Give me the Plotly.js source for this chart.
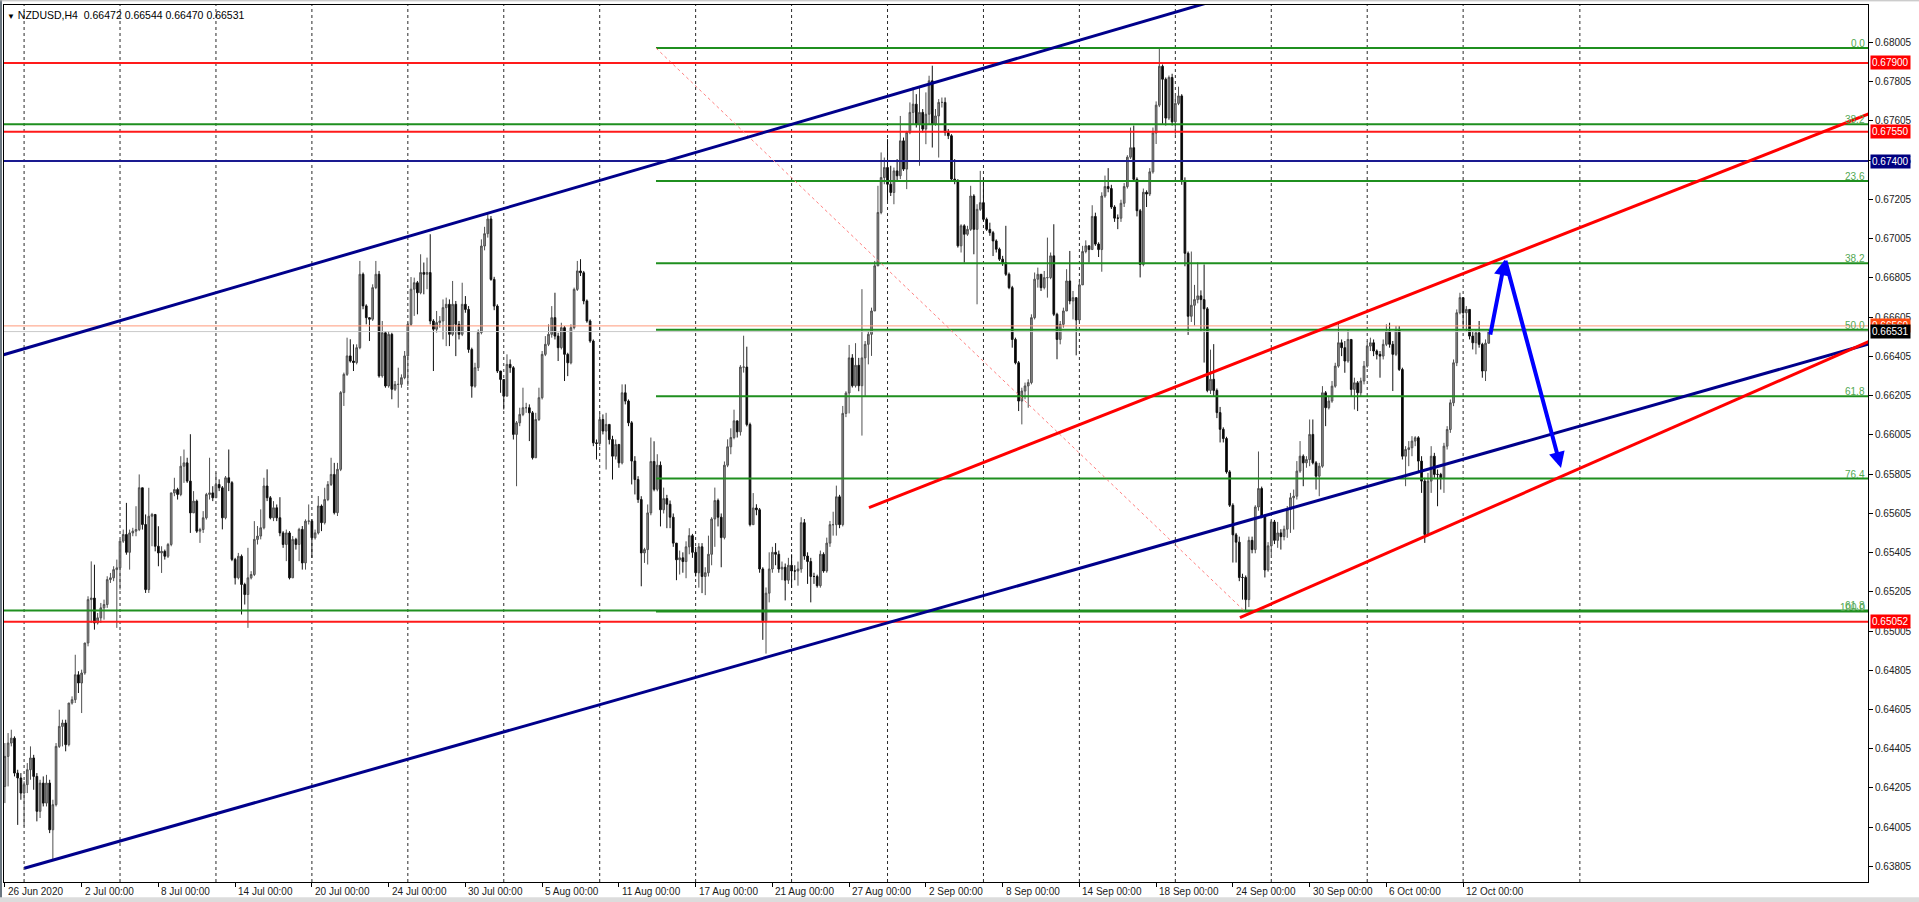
<!DOCTYPE html>
<html><head><meta charset="utf-8">
<script src="https://cdn.plot.ly/plotly-3.0.1.min.js"></script>
<style>html,body{margin:0;padding:0;background:#fff;overflow:hidden}#chart{width:1919px;height:902px}</style>
</head><body><div id="chart"></div>
<script>
// ---- Data: NZDUSD H4 candles, prices in points (1 point = 0.00001) ----
const firstOpen = 64213;
const closePts = [
64366,64434,64459,64281,64256,64179,64222,64298,64358,64264,
64086,64230,64128,64230,63992,64120,64417,64519,64536,64426,
64638,64655,64782,64740,64791,64944,65165,65173,65046,65072,
65123,65140,65267,65276,65318,65327,65463,65497,65406,65505,
65514,65522,65735,65548,65216,65590,65599,65437,65403,65411,
65386,65446,65709,65726,65701,65845,65862,65769,65607,65667,
65514,65522,65582,65701,65709,65684,65752,65735,65582,65786,
65761,65370,65276,65386,65242,65191,65276,65293,65472,65489,
65531,65744,65684,65582,65633,65582,65505,65446,65505,65276,
65472,65446,65523,65352,65565,65565,65480,65505,65642,65557,
65675,65752,65803,65608,65829,66220,66313,66407,66381,66373,
66449,66823,66662,66602,66594,66755,66823,66305,66525,66254,
66517,66237,66262,66262,66296,66407,66568,66747,66780,66729,
66832,66823,66832,66585,66543,66577,66585,66653,66670,66517,
66670,66568,66517,66670,66644,66440,66253,66347,66526,66967,
67030,67105,66797,66661,66330,66287,66202,66364,66347,66007,
66066,66109,66143,66143,66117,65888,66083,66194,66415,66466,
66517,66602,66508,66449,66551,66415,66372,66551,66746,66840,
66831,66687,66585,66483,65964,65961,66083,66024,66058,65981,
65896,65956,65862,66219,66177,66066,65871,65777,65675,65403,
65420,65607,65869,65727,65850,65623,65680,65651,65585,65453,
65368,65378,65359,65434,65491,65406,65302,65434,65283,65302,
65396,65576,65670,65585,65481,65850,65944,65991,66076,66020,
66350,66350,66057,65547,65632,65623,65321,65057,65198,65321,
65406,65396,65321,65330,65264,65340,65311,65311,65321,65557,
65387,65359,65283,65283,65236,65396,65311,65453,65547,65547,
65689,65547,66114,66218,66397,66255,66359,66255,66397,66466,
66517,66636,66866,67138,67316,67367,67282,67240,67350,67325,
67503,67359,67546,67648,67690,67588,67648,67563,67639,67809,
67588,67630,67699,67699,67546,67529,67308,67299,66968,67070,
67027,67052,67222,67052,67154,67188,67103,67052,67035,66993,
66951,66900,66883,66823,66755,66491,66372,66177,66228,66254,
66271,66602,66798,66823,66755,66806,66806,66917,66619,66491,
66568,66636,66789,66687,66704,66590,66769,66939,66968,66949,
67118,66977,66949,67222,67270,67260,67166,67109,67109,67185,
67270,67420,67468,67307,67147,66873,67241,67232,67345,67543,
67685,67883,67817,67619,67826,67600,67694,67732,67298,66930,
66609,66665,66694,66713,66694,66647,66231,66288,66231,66118,
66033,65986,65816,65646,65495,65458,65278,65278,65165,65467,
65420,65637,65731,65590,65316,65439,65561,65467,65505,65486,
65524,65625,65684,65692,65820,65896,65862,65879,66007,65862,
65794,65845,66219,66143,66177,66253,66355,66474,66449,66381,
66491,66236,66270,66219,66279,66355,66457,66474,66432,66415,
66406,66466,66534,66466,66415,66542,66338,65896,65930,65939,
65973,65990,65871,65769,65497,65769,65896,65803,65803,65786,
65947,66032,66168,66372,66627,66704,66627,66644,66508,66474,
66525,66466,66330,66472,66531];
const highPts = [
64434,64485,64502,64468,64298,64281,64239,64332,64417,64374,
64281,64247,64264,64272,64247,64145,64434,64604,64553,64553,
64638,64672,64884,64800,64808,64944,65182,65360,65343,65097,
65148,65165,65284,65301,65335,65369,65471,65522,65658,65522,
65531,65641,65803,65735,65599,65735,65607,65599,65539,65437,
65420,65454,65709,65786,65735,65896,65930,65888,66008,65718,
65675,65531,65616,65709,65888,65743,65812,65778,65744,65795,
65930,65769,65378,65403,65395,65251,65429,65310,65565,65540,
65625,65786,65829,65693,65667,65650,65687,65514,65522,65514,
65489,65480,65531,65540,65574,65650,65574,65522,65693,65650,
65735,65769,65888,65862,65862,66228,66322,66500,66492,66466,
66466,66891,66832,66670,66602,66772,66891,66840,66585,66534,
66534,66525,66279,66347,66313,66432,66577,66809,66806,66789,
66925,66883,66908,67027,66594,66636,66610,66695,66704,66695,
66789,66687,66585,66780,66712,66661,66449,66372,66542,67001,
67065,67139,67120,66810,66670,66330,66253,66415,66389,66355,
66075,66143,66245,66168,66160,66126,66117,66245,66432,66508,
66568,66661,66729,66525,66576,66559,66423,66568,66755,66891,
66900,66840,66695,66593,66491,65981,66117,66109,66117,66015,
66000,65981,65922,66262,66262,66185,66075,65896,65794,65692,
65429,65650,65991,65972,65906,65869,65736,65699,65670,65604,
65444,65415,65406,65462,65529,65500,65434,65453,65453,65330,
65491,65585,65736,65680,65604,65869,65982,66038,66133,66076,
66360,66510,66454,66067,65708,65651,65632,65330,65227,65406,
65434,65453,65415,65359,65349,65378,65396,65340,65359,65585,
65576,65406,65378,65302,65292,65415,65406,65481,65566,65613,
65746,65699,66152,66227,66463,66416,66472,66397,66747,66483,
66534,66653,66891,67274,67444,67418,67512,67376,67367,67410,
67630,67520,67554,67699,67775,67741,67775,67665,67750,67835,
67886,67665,67716,67724,67724,67563,67537,67410,67308,67078,
67078,67070,67274,67231,67180,67350,67316,67112,67086,67044,
67001,66959,66917,67070,66832,66764,66500,66381,66245,66271,
66288,66619,66832,66857,66823,66840,67010,66934,67078,66627,
66585,66653,66849,66942,66738,66694,66788,66968,66996,66968,
67175,67137,66986,67241,67326,67364,67279,67175,67128,67203,
67288,67430,67571,67581,67317,67156,67260,67251,67364,67571,
67704,67976,67892,67826,67836,67845,67732,67779,67741,67317,
66939,66939,66769,66883,66741,66873,66656,66439,66467,66241,
66147,66043,65995,65825,65656,65505,65486,65297,65288,65486,
65486,65646,65920,65741,65599,65458,65571,65571,65561,65524,
65542,65642,65709,65726,65871,65973,65905,65896,66083,66083,
65871,65862,66253,66228,66202,66279,66372,66576,66491,66483,
66542,66491,66296,66279,66296,66381,66483,66500,66491,66440,
66432,66491,66568,66576,66483,66559,66559,66347,65947,65973,
65998,65998,65998,65896,65786,65811,65947,65913,65828,65811,
65964,66049,66185,66389,66644,66729,66695,66661,66644,66534,
66542,66585,66474,66491,66544];
const lowPts = [
64128,64213,64417,64264,64017,64145,64009,64179,64247,64196,
64035,64052,64111,64111,63975,63839,64111,64409,64417,64392,
64417,64630,64638,64689,64587,64782,64927,65046,65012,65038,
65046,65063,65123,65250,65259,65021,65216,65454,65394,65318,
65488,65488,65514,65522,65199,65199,65437,65411,65335,65301,
65369,65377,65437,65692,65675,65692,65760,65760,65505,65607,
65505,65454,65505,65573,65675,65667,65693,65718,65523,65574,
65718,65361,65242,65268,65089,65140,65021,65268,65285,65446,
65472,65523,65667,65574,65565,65565,65488,65429,65361,65268,
65293,65420,65361,65318,65318,65548,65378,65471,65497,65514,
65548,65667,65744,65599,65591,65820,66152,66305,66373,66330,
66364,66441,66645,66568,66483,66585,66747,66296,66296,66245,
66245,66186,66228,66143,66245,66288,66254,66560,66611,66619,
66721,66721,66747,66568,66330,66526,66551,66491,66457,66457,
66508,66406,66491,66508,66627,66423,66194,66245,66330,66517,
66945,67010,66790,66640,66320,66219,66134,66202,66321,65981,
65743,66049,66100,66117,65973,65879,65888,66075,66185,66406,
66457,66500,66491,66381,66440,66279,66304,66364,66542,66738,
66814,66670,66576,66474,65947,65879,65947,66007,65828,65956,
65777,65879,65837,65854,66160,66049,65752,65701,65658,65233,
65352,65344,65595,65717,65717,65538,65604,65529,65529,65434,
65264,65293,65302,65274,65396,65378,65283,65226,65198,65188,
65283,65340,65434,65538,65330,65472,65840,65906,65982,65991,
66001,66322,66048,65538,65547,65595,65302,64960,64890,65151,
65302,65340,65302,65264,65161,65245,65226,65264,65236,65302,
65368,65245,65151,65245,65226,65226,65302,65302,65434,65491,
65491,65529,65538,66095,66114,66246,66246,66227,66001,66203,
66364,66407,66636,66866,67129,67282,67197,67222,67180,67299,
67308,67350,67257,67537,67588,67571,67376,67546,67486,67588,
67469,67580,67418,67673,67529,67512,67299,67282,66959,66934,
66883,67019,67044,66925,66670,67146,67095,67044,67019,66916,
66934,66891,66866,66815,66747,66449,66364,66126,66058,66186,
66143,66262,66593,66755,66738,66746,66704,66798,66610,66390,
66466,66551,66636,66670,66593,66410,66581,66769,66930,66883,
66958,66968,66911,66836,67213,67241,67156,67090,67053,67090,
67166,67260,67411,67298,67118,66807,66864,67166,67222,67336,
67487,67675,67590,67581,67609,67581,67534,67685,67279,66864,
66514,66580,66562,66675,66533,66373,66222,66213,66203,66090,
65966,65966,65807,65637,65354,65354,65259,65165,65108,65127,
65401,65401,65618,65580,65278,65307,65392,65448,65429,65420,
65467,65480,65505,65522,65675,65811,65743,65837,65845,65854,
65726,65692,65837,66049,66134,66168,66245,66347,66406,66321,
66372,66202,66134,66126,66202,66262,66347,66432,66406,66389,
66296,66389,66457,66449,66228,66406,66330,65879,65743,65845,
65896,65947,65811,65709,65454,65488,65709,65786,65641,65726,
65709,65930,66015,66151,66355,66619,66551,66534,66491,66440,
66415,66449,66296,66279,66470];

// x-axis (bar index) tick labels
const xTickBars = [0,24,48,72,96,120,144,168,192,216,240,264,288,312,336,360,384,408,432,456];
const xTickLabels = ['26 Jun 2020','2 Jul 00:00','8 Jul 00:00','14 Jul 00:00','20 Jul 00:00','24 Jul 00:00','30 Jul 00:00','5 Aug 00:00','11 Aug 00:00','17 Aug 00:00','21 Aug 00:00','27 Aug 00:00','2 Sep 00:00','8 Sep 00:00','14 Sep 00:00','18 Sep 00:00','24 Sep 00:00','30 Sep 00:00','6 Oct 00:00','12 Oct 00:00'];
const gridBars = [6,36,66,96,126,156,186,216,246,276,306,336,366,396,426,456,492.5];
const yTickVals = [0.63805,0.64005,0.64205,0.64405,0.64605,0.64805,0.65005,0.65205,0.65405,0.65605,0.65805,0.66005,0.66205,0.66405,0.66605,0.66805,0.67005,0.67205,0.67405,0.67605,0.67805,0.68005];

// horizontal levels
const redLevels = [0.67900, 0.67550, 0.65052];
const navyLevel = 0.67400;
const askPrice = 0.66560;
const bidPrice = 0.66531;
// Fibonacci retracement
const fibHigh = 0.67976, fibLow = 0.65104, fibStartBar = 203.6, fibEndBar = 387.8;
const fibLevels = [0, 23.6, 38.2, 50, 61.8, 76.4, 100];
const fib2Prices = [0.67588, 0.65110];
const fib2Labels = ['38.2', '61.8'];
// trend lines [bar, price]
const navyUpper = [[0.03, 0.66415], [371.5, 0.68185]];
const navyLower = [[6.07, 0.63796], [582.6, 0.66467]];
const redUpper = [[270.2, 0.65634], [582.6, 0.67639]];
const redLower = [[386.2, 0.65073], [582.6, 0.66479]];
const arrowPath = [[464.4, 0.66508], [469.1, 0.66899], [486.6, 0.65836]];
const titleText = 'NZDUSD,H4&nbsp;&nbsp;0.66472 0.66544 0.66470 0.66531';

// ---- build ----
const N = Math.min(closePts.length, highPts.length, lowPts.length);
const bars = [], o = [], h = [], l = [], c = [];
for (let i = 0; i < N; i++) {
  const op = i === 0 ? firstOpen : closePts[i - 1];
  const cl = closePts[i];
  bars.push(i);
  o.push(op / 1e5); c.push(cl / 1e5);
  h.push(Math.max(highPts[i], op, cl) / 1e5);
  l.push(Math.min(lowPts[i], op, cl) / 1e5);
}

const X0 = -0.28, X1 = 582.6;
const Y0 = 0.637259, Y1 = 0.681954;
const FONT = 'Liberation Sans, Arial, sans-serif';

const shapes = [];
// vertical dashed grid
gridBars.forEach(b => shapes.push({type:'line', xref:'x', yref:'paper', x0:b, x1:b, y0:0, y1:1,
  line:{color:'#2a2a2a', width:1, dash:'dot'}, layer:'below'}));
function hline(p, color, w, dash) {
  shapes.push({type:'line', xref:'paper', yref:'y', x0:0, x1:1, y0:p, y1:p, line:{color:color, width:w, dash:dash||'solid'}, layer:'above'});
}
hline(bidPrice, '#c9c9c9', 1);
hline(askPrice, '#ff9a7a', 1);
fib2Prices.forEach(p => hline(p, '#1f8f1f', 2));
redLevels.forEach(p => hline(p, '#ff1a1a', 2));
hline(navyLevel, '#1a1a90', 2);
// fib lines
const fibPrice = lv => fibHigh - lv / 100 * (fibHigh - fibLow);
fibLevels.forEach(lv => shapes.push({type:'line', xref:'x', yref:'y', x0:fibStartBar, x1:X1, y0:fibPrice(lv), y1:fibPrice(lv),
  line:{color:'#1f8f1f', width:2}, layer:'above'}));
// fib dotted trend line
shapes.push({type:'line', xref:'x', yref:'y', x0:fibStartBar, y0:fibHigh, x1:fibEndBar, y1:fibLow,
  line:{color:'#ff8080', width:1, dash:'dot'}, layer:'above'});
// trend lines (rays)
function ray(pts, color, xa, xb) {
  const [[ax, ay], [bx, by]] = pts;
  const s = (by - ay) / (bx - ax);
  const xs = xa === undefined ? ax : xa, xe = xb === undefined ? bx : xb;
  shapes.push({type:'line', xref:'x', yref:'y', x0:xs, y0:ay + s * (xs - ax), x1:xe, y1:ay + s * (xe - ax),
    line:{color:color, width:3}, layer:'above'});
}
ray(navyUpper, '#00008b', -5, 420);
ray(navyLower, '#00008b', navyLower[0][0], X1 + 2);
ray(redUpper, '#ff0000', redUpper[0][0], X1 + 2);
ray(redLower, '#ff0000', redLower[0][0], X1 + 2);
// window frame bits
shapes.push({type:'line', xref:'paper', yref:'paper', x0:-3/1864, x1:-3/1864, y0:-0.03, y1:1.01, line:{color:'#6a7680', width:2}});
shapes.push({type:'rect', xref:'paper', yref:'paper', x0:-0.01, x1:1.05, y0:-0.0235, y1:-0.0175, line:{width:0}, fillcolor:'#dcdcdc'});
shapes.push({type:'line', xref:'paper', yref:'paper', x0:-0.01, x1:1.05, y0:1.0048, y1:1.0048, line:{color:'#b8b8b8', width:1}});

const ann = [];
// x labels, left aligned at tick
xTickBars.forEach((b, i) => ann.push({x:b, y:0, xref:'x', yref:'paper', xanchor:'left', yanchor:'top', xshift:1, yshift:-2,
  text:xTickLabels[i], showarrow:false, font:{family:FONT, size:10, color:'#1a1a1a'}}));
// title
ann.push({x:0, y:1, xref:'paper', yref:'paper', xanchor:'left', yanchor:'top', xshift:1, yshift:-2, showarrow:false,
  text:'<span style="font-size:8px">▼</span> ' + titleText, font:{family:FONT, size:10.5, color:'#000'}});
// fib labels
fibLevels.forEach(lv => ann.push({x:1, y:fibPrice(lv), xref:'paper', yref:'y', xanchor:'right', yanchor:'bottom', xshift:-1, yshift:-3,
  text:lv.toFixed(1), showarrow:false, font:{family:FONT, size:10, color:'#52a852'}}));
fib2Prices.forEach((p, i) => ann.push({x:1, y:p, xref:'paper', yref:'y', xanchor:'right', yanchor:'bottom', xshift:-1, yshift:-3,
  text:fib2Labels[i], showarrow:false, font:{family:FONT, size:10, color:'#52a852'}}));
// price boxes on axis
function box(p, bg) {
  ann.push({x:1, y:p, xref:'paper', yref:'y', xanchor:'left', yanchor:'middle', xshift:2, text:p.toFixed(5), showarrow:false,
    bgcolor:bg, borderpad:1, font:{family:FONT, size:10, color:'#fff'}});
}
box(redLevels[0], '#ff0000');
box(redLevels[1], '#ff0000');
box(navyLevel, '#000080');
box(askPrice, '#ff4a10');
box(bidPrice, '#000000');
box(redLevels[2], '#ff0000');
// arrows
for (let k = 1; k < arrowPath.length; k++) {
  ann.push({x:arrowPath[k][0], y:arrowPath[k][1], ax:arrowPath[k-1][0], ay:arrowPath[k-1][1], xref:'x', yref:'y', axref:'x', ayref:'y',
    showarrow:true, arrowhead:2, arrowsize:0.8, arrowwidth:4, arrowcolor:'#0000ff', text:'', standoff:0});
}

const trace = {type:'candlestick', x:bars, open:o, high:h, low:l, close:c,
  increasing:{line:{color:'#505050', width:1}, fillcolor:'#8e8e8e'},
  decreasing:{line:{color:'#111111', width:1}, fillcolor:'#000000'},
  whiskerwidth:0, hoverinfo:'skip', showlegend:false};

const layout = {
  width:1919, height:902, margin:{l:4, r:51, t:5, b:20, pad:0},
  paper_bgcolor:'#ffffff', plot_bgcolor:'#ffffff', showlegend:false, boxgap:0.25,
  xaxis:{type:'linear', range:[X0, X1], showgrid:false, zeroline:false, showline:true, mirror:true, linecolor:'#000', linewidth:1,
    ticks:'outside', ticklen:4, tickcolor:'#000', tickvals:xTickBars, showticklabels:false, rangeslider:{visible:false}, fixedrange:true},
  yaxis:{side:'right', range:[Y0, Y1], showgrid:false, zeroline:false, showline:true, mirror:true, linecolor:'#000', linewidth:1,
    ticks:'outside', ticklen:4, tickcolor:'#000', tickvals:yTickVals, ticktext:yTickVals.map(v => v.toFixed(5)),
    tickfont:{family:FONT, size:10, color:'#222'}, fixedrange:true},
  shapes:shapes, annotations:ann
};
Plotly.newPlot('chart', [trace], layout, {displayModeBar:false, staticPlot:true});
</script></body></html>
